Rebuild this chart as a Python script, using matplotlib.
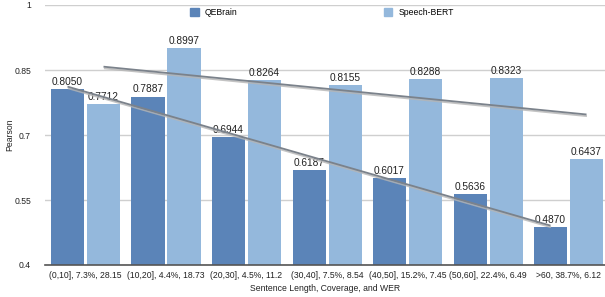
import matplotlib
matplotlib.use("Agg")
import matplotlib.pyplot as plt
import numpy as np
from matplotlib import patheffects as pe
from matplotlib.patches import Patch

plt.rcParams['font.family'] = ['Liberation Sans', 'DejaVu Sans']

categories = ["(0,10], 7.3%, 28.15", "(10,20], 4.4%, 18.73", "(20,30], 4.5%, 11.2",
              "(30,40], 7.5%, 8.54", "(40,50], 15.2%, 7.45", "(50,60], 22.4%, 6.49",
              ">60, 38.7%, 6.12"]
qebrain = [0.8050, 0.7887, 0.6944, 0.6187, 0.6017, 0.5636, 0.4870]
speechbert = [0.7712, 0.8997, 0.8264, 0.8155, 0.8288, 0.8323, 0.6437]
yticks = [0.4, 0.55, 0.7, 0.85, 1.0]
yticklabels = ["0.4", "0.55", "0.7", "0.85", "1"]

c_dark = "#5b84b8"
c_light = "#94b8dc"

fig = plt.figure(figsize=(6.05, 2.97), dpi=100)
ax = fig.add_axes([45/605, 1-265/297, 560/605, 260/297])

x = np.arange(len(categories))
off = 0.2236
w = 0.41
ax.bar(x - off, np.array(qebrain) - 0.4, w, bottom=0.4, color=c_dark, zorder=2)
ax.bar(x + off, np.array(speechbert) - 0.4, w, bottom=0.4, color=c_light, zorder=2)

for xs, vals in ((x - off, qebrain), (x + off, speechbert)):
    for xi, v in zip(xs, vals):
        ax.annotate(f"{v:.4f}", (xi, v), xytext=(0, 1.5), textcoords='offset points',
                    ha='center', va='bottom', fontsize=7.3, color='#222222', zorder=3)

# linear trend lines
for xs, vals in ((x - off, qebrain), (x + off, speechbert)):
    k, b = np.polyfit(x, vals, 1)
    xx = np.array([xs[0], xs[-1]])
    yy = k * np.array([x[0], x[-1]]) + b
    ax.plot(xx, yy, color='#7b828b', lw=1.3, zorder=4, solid_capstyle='butt',
            path_effects=[pe.SimpleLineShadow(offset=(0.3, -1.2), shadow_color='#b5b5b5', alpha=0.8),
                          pe.Normal()])

ax.set_ylim(0.4, 1.0)
ax.set_xlim(-0.503, 6.453)
ax.set_yticks(yticks)
ax.set_yticklabels(yticklabels)
ax.set_xticks(x)
ax.set_xticklabels(categories)
ax.tick_params(axis='both', length=0, labelsize=6.2, colors='#222222')
ax.tick_params(axis='y', pad=10)
ax.tick_params(axis='x', pad=4)
ax.grid(axis='y', color='#cfcfcf', lw=1, zorder=0)
ax.set_axisbelow(True)
for s in ['top', 'right', 'left']:
    ax.spines[s].set_visible(False)
ax.spines['bottom'].set_color('#555555')
ax.spines['bottom'].set_linewidth(1.2)

ax.set_ylabel("Pearson", fontsize=6.2, color='#222222')
ax.yaxis.set_label_coords(-0.0625, 0.5)
ax.set_xlabel("Sentence Length, Coverage, and WER", fontsize=6.2, color='#222222')
ax.xaxis.set_label_coords(0.5, -0.092)
ax.xaxis.label.set_va('center')
ax.yaxis.label.set_va('center')

handles = [Patch(color=c_dark, label="QEBrain"), Patch(color=c_light, label="Speech-BERT")]
fig.legend(handles=handles, loc='upper left', bbox_to_anchor=(190/605, 1 - 8/297), ncol=2,
           frameon=False, fontsize=6.2, handlelength=1.0, handleheight=0.9, handletextpad=0.7,
           columnspacing=17, borderpad=0, borderaxespad=0)

fig.savefig("out.png", dpi=100)
